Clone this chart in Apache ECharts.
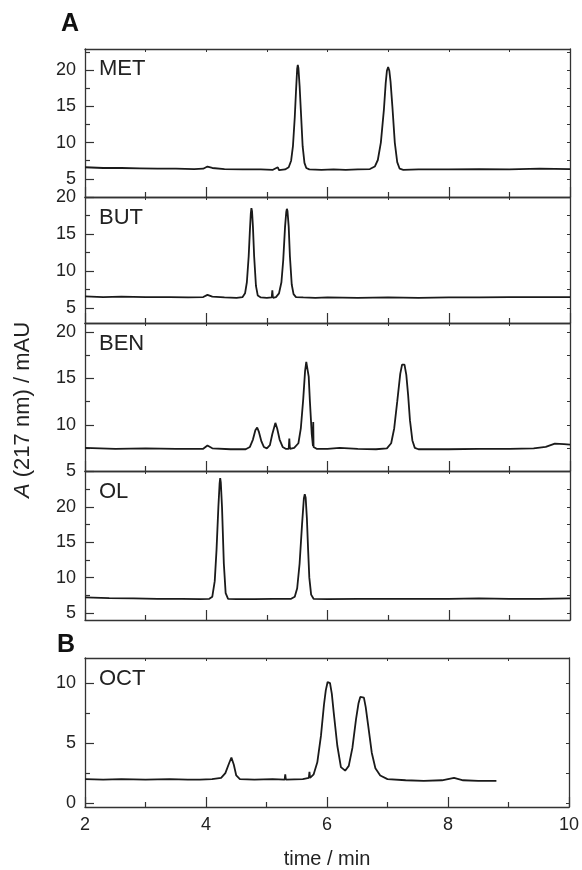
<!DOCTYPE html>
<html>
<head>
<meta charset="utf-8">
<script src="https://cdn.jsdelivr.net/npm/echarts@6/dist/echarts.min.js"></script>
<style>
  html, body { margin: 0; padding: 0; background: #fff; }
  #chart { width: 582px; height: 870px; }
</style>
</head>
<body>
<div id="chart"></div>
<script>
const timeRange = [2, 10]
const panelNames = ['MET', 'BUT', 'BEN', 'OL', 'OCT']
const yRanges = [[2.5, 22.9], [3, 20], [5, 21], [4, 25.1], [-0.33, 12.1]]
const majorTicks = [[5, 10, 15, 20], [5, 10, 15, 20], [5, 10, 15, 20], [5, 10, 15, 20], [0, 5, 10]]
const minorTicks = [[7.5, 12.5, 17.5, 22.5], [7.5, 12.5, 17.5], [7.5, 12.5, 17.5], [7.5, 12.5, 17.5, 22.5], [2.5, 7.5]]

const met = [
  [2.0, 6.6], [2.3, 6.5], [2.6, 6.5], [2.9, 6.45], [3.2, 6.4], [3.5, 6.4], [3.8, 6.35], [3.95, 6.4],
  [4.02, 6.7], [4.1, 6.5], [4.3, 6.35], [4.6, 6.3], [4.9, 6.3], [5.1, 6.25], [5.18, 6.6], [5.2, 6.2],
  [5.3, 6.3], [5.36, 6.6], [5.4, 7.5], [5.43, 9.5], [5.46, 13.5], [5.48, 17], [5.5, 20.2], [5.51, 20.7],
  [5.52, 20.3], [5.54, 17.8], [5.56, 14.5], [5.59, 9.5], [5.62, 7.2], [5.65, 6.5], [5.7, 6.3], [5.9, 6.25],
  [6.1, 6.3], [6.3, 6.25], [6.5, 6.3], [6.7, 6.35], [6.78, 6.7], [6.83, 7.6], [6.88, 10], [6.93, 14.5],
  [6.96, 18.2], [6.98, 19.9], [7.0, 20.4], [7.02, 19.9], [7.04, 18.4], [7.07, 15], [7.11, 10], [7.15, 7.3],
  [7.19, 6.4], [7.25, 6.25], [7.5, 6.3], [8.0, 6.3], [8.5, 6.35], [9.0, 6.3], [9.5, 6.4], [10, 6.35]
]
const but = [
  [2.0, 6.6], [2.3, 6.5], [2.6, 6.55], [3.0, 6.5], [3.4, 6.5], [3.7, 6.45], [3.95, 6.5], [4.02, 6.8],
  [4.1, 6.55], [4.3, 6.45], [4.5, 6.4], [4.6, 6.5], [4.64, 7.0], [4.67, 8.5], [4.7, 12], [4.72, 15.5],
  [4.735, 17.8], [4.745, 18.5], [4.755, 18.1], [4.77, 16], [4.79, 12], [4.82, 8], [4.85, 6.7], [4.9, 6.45],
  [5.0, 6.4], [5.08, 6.45], [5.09, 7.4], [5.1, 6.4], [5.15, 6.5], [5.2, 7.0], [5.24, 8.5], [5.27, 11.5],
  [5.3, 16], [5.32, 18], [5.33, 18.4], [5.34, 18.1], [5.36, 16], [5.38, 12], [5.41, 8.2], [5.44, 6.9],
  [5.48, 6.5], [5.6, 6.45], [5.8, 6.4], [6.0, 6.45], [6.5, 6.4], [7.0, 6.45], [7.5, 6.4], [8.0, 6.45],
  [8.5, 6.45], [9.0, 6.5], [9.5, 6.5], [10, 6.5]
]
const ben = [
  [2.0, 7.5], [2.5, 7.4], [3.0, 7.45], [3.5, 7.4], [3.95, 7.4], [4.02, 7.75], [4.1, 7.45], [4.4, 7.35],
  [4.65, 7.35], [4.72, 7.6], [4.77, 8.4], [4.81, 9.4], [4.84, 9.7], [4.87, 9.2], [4.91, 8.2], [4.95, 7.6],
  [5.0, 7.45], [5.05, 7.8], [5.09, 9.0], [5.14, 10.2], [5.17, 9.6], [5.21, 8.4], [5.26, 7.6], [5.31, 7.4],
  [5.36, 7.4], [5.37, 8.5], [5.38, 7.4], [5.45, 7.5], [5.52, 8.0], [5.56, 9.6], [5.6, 12.8], [5.63, 15.8],
  [5.65, 16.8], [5.66, 16.9], [5.675, 16.6], [5.69, 15.2], [5.71, 12.5], [5.74, 9.0], [5.76, 7.7], [5.765, 10.3],
  [5.77, 7.6], [5.82, 7.4], [6.0, 7.4], [6.2, 7.5], [6.5, 7.4], [6.8, 7.35], [6.98, 7.45], [7.05, 8.0],
  [7.1, 9.6], [7.15, 12.5], [7.2, 15.5], [7.23, 16.5], [7.25, 16.7], [7.27, 16.5], [7.3, 15.4], [7.33, 13.2],
  [7.36, 10.5], [7.4, 8.3], [7.44, 7.5], [7.5, 7.35], [8.0, 7.35], [8.5, 7.4], [9.0, 7.4], [9.4, 7.45],
  [9.6, 7.6], [9.75, 7.95], [9.9, 7.9], [10, 7.85]
]
const ol = [
  [2.0, 7.2], [2.4, 7.1], [2.8, 7.05], [3.2, 7.0], [3.6, 7.0], [3.9, 6.95], [4.05, 7.0], [4.1, 7.3],
  [4.14, 9.5], [4.17, 14], [4.2, 20], [4.22, 23.3], [4.23, 24.1], [4.24, 23.5], [4.26, 20], [4.29, 12],
  [4.32, 7.8], [4.36, 7.0], [4.5, 6.95], [4.8, 6.95], [5.1, 7.0], [5.4, 7.0], [5.46, 7.3], [5.5, 8.5],
  [5.54, 12], [5.58, 17.5], [5.61, 21.2], [5.625, 21.8], [5.64, 21.3], [5.66, 18.4], [5.68, 14], [5.7, 10],
  [5.73, 7.6], [5.77, 7.0], [6.0, 6.95], [6.5, 7.0], [7.0, 7.0], [7.5, 7.0], [8.0, 7.0], [8.5, 7.05],
  [9.0, 7.0], [9.5, 7.0], [10, 7.05]
]
const oct = [
  [2.0, 2.0], [2.3, 1.95], [2.6, 2.0], [3.0, 1.95], [3.4, 2.0], [3.7, 1.95], [3.9, 1.95],
  [4.1, 2.0], [4.25, 2.1], [4.32, 2.5], [4.38, 3.3], [4.42, 3.8], [4.46, 3.2], [4.5, 2.3], [4.56, 2.0],
  [4.8, 1.95], [5.1, 2.0], [5.3, 1.95], [5.31, 2.4], [5.32, 1.95], [5.6, 2.0], [5.7, 2.1], [5.71, 2.6],
  [5.72, 2.1], [5.78, 2.4], [5.84, 3.4], [5.9, 5.6], [5.95, 8.2], [5.98, 9.4], [6.01, 10.1], [6.03, 10.2],
  [6.05, 10.0], [6.08, 9.1], [6.11, 7.6], [6.17, 4.8], [6.23, 3.0], [6.3, 2.7], [6.36, 3.1], [6.42, 4.6],
  [6.48, 7.0], [6.52, 8.3], [6.55, 8.85], [6.58, 9.0], [6.61, 8.8], [6.64, 8.0], [6.68, 6.5], [6.74, 4.2],
  [6.8, 2.9], [6.88, 2.3], [7.0, 2.0], [7.3, 1.9], [7.6, 1.85], [7.9, 1.9], [8.1, 2.1], [8.25, 1.9],
  [8.5, 1.85], [8.8, 1.85]
]
const traces = [met, but, ben, ol, oct]

// panel boxes in px
const tops = [49, 197, 323, 471, 658]
const heights = [148, 126, 148, 149, 149]
const font = 'Liberation Sans, Arial, sans-serif'
const axisColor = '#333'
const lineColor = '#1a1a1a'

const chart = echarts.init(document.getElementById('chart'))

const grid = [], xAxis = [], yAxis = [], series = [], graphic = []

traces.forEach((data, i) => {
  const last = i === traces.length - 1
  grid.push({ left: 85, right: 12, top: tops[i], height: heights[i] })
  const axisLine = { onZero: false, lineStyle: { color: axisColor, width: 1.3 } }

  xAxis.push({
    type: 'value', gridIndex: i, position: 'bottom',
    min: timeRange[0], max: timeRange[1], interval: 2,
    axisLine,
    axisTick: { inside: true, length: 10, lineStyle: { color: axisColor, width: 1.2 } },
    minorTick: { show: true, splitNumber: 2, length: 5, lineStyle: { color: axisColor, width: 1.2 } },
    axisLabel: { show: last, margin: 9, fontSize: 18, color: '#222', fontFamily: font },
    splitLine: { show: false }, minorSplitLine: { show: false }
  })
  xAxis.push({
    type: 'value', gridIndex: i, position: 'top',
    min: timeRange[0], max: timeRange[1], interval: 1,
    axisLine,
    axisTick: { inside: true, length: 3, lineStyle: { color: axisColor, width: 1 } },
    axisLabel: { show: false }, splitLine: { show: false }
  })

  const [ymin, ymax] = yRanges[i]
  yAxis.push({
    type: 'value', gridIndex: i, position: 'left', min: ymin, max: ymax,
    axisLine,
    axisTick: { inside: true, length: 9, customValues: majorTicks[i], lineStyle: { color: axisColor, width: 1.2 } },
    axisLabel: { customValues: majorTicks[i], margin: 9, fontSize: 18, color: '#222', fontFamily: font },
    splitLine: { show: false }
  })
  yAxis.push({
    type: 'value', gridIndex: i, position: 'left', min: ymin, max: ymax,
    axisLine: { show: false, onZero: false },
    axisTick: { inside: true, length: 5, customValues: minorTicks[i], lineStyle: { color: axisColor, width: 1.2 } },
    axisLabel: { show: false }, splitLine: { show: false }
  })
  yAxis.push({
    type: 'value', gridIndex: i, position: 'right', min: ymin, max: ymax,
    axisLine,
    axisTick: { inside: true, length: 3, customValues: majorTicks[i].concat(minorTicks[i]), lineStyle: { color: axisColor, width: 1 } },
    axisLabel: { show: false }, splitLine: { show: false }
  })

  series.push({
    type: 'line', name: panelNames[i], xAxisIndex: 2 * i, yAxisIndex: 3 * i,
    data, showSymbol: false, animation: false,
    lineStyle: { color: lineColor, width: 1.8 }
  })

  graphic.push({
    type: 'text', x: 99, y: tops[i] + (i === 0 ? 20 : 21),
    style: { text: panelNames[i], font: '22px ' + font, fill: '#222', verticalAlign: 'middle' }
  })
})

graphic.push(
  { type: 'text', x: 70, y: 24, style: { text: 'A', font: 'bold 25px ' + font, fill: '#111', align: 'center', verticalAlign: 'middle' } },
  { type: 'text', x: 66, y: 645, style: { text: 'B', font: 'bold 25px ' + font, fill: '#111', align: 'center', verticalAlign: 'middle' } },
  { type: 'text', x: 327, y: 859, style: { text: 'time / min', font: '20px ' + font, fill: '#222', align: 'center', verticalAlign: 'middle' } },
  {
    type: 'text', x: 23, y: 410, rotation: Math.PI / 2,
    style: {
      text: '{i|A} (217 nm) / mAU', font: '22px ' + font, fill: '#222', align: 'center', verticalAlign: 'middle',
      rich: { i: { fontStyle: 'italic', fontSize: 22, fontFamily: font } }
    }
  }
)

chart.setOption({ animation: false, grid, xAxis, yAxis, series, graphic })
</script>
</body>
</html>
